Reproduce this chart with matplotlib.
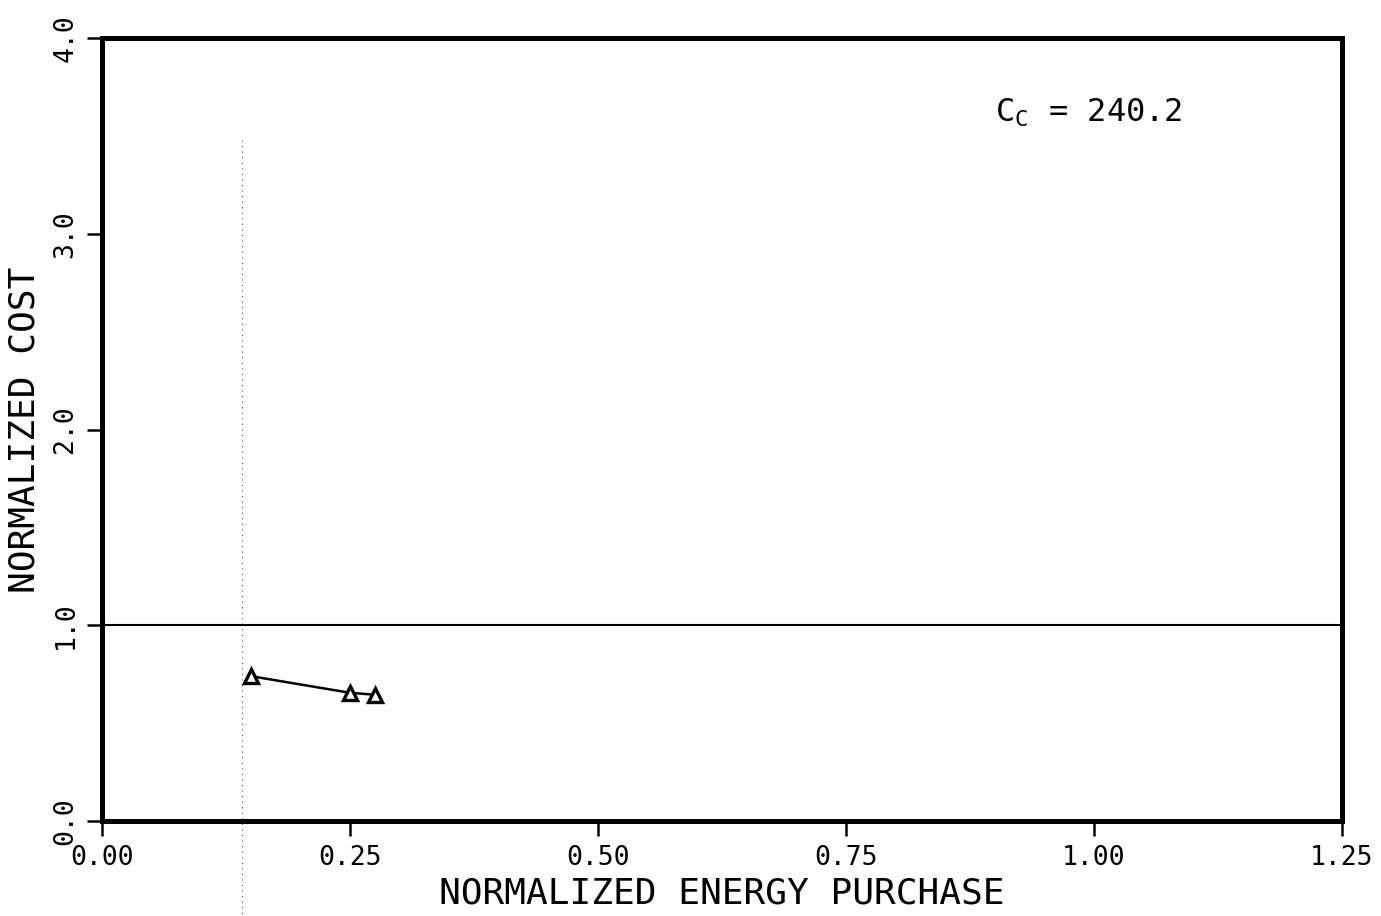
import matplotlib
matplotlib.use("Agg")
import matplotlib.pyplot as plt

# Cost curve for C_c = 240.2
energy_purchase = [0.15, 0.25, 0.275]
normalized_cost = [0.74, 0.655, 0.645]

x_ticks = [0.00, 0.25, 0.50, 0.75, 1.00, 1.25]
x_tick_labels = ["0.00", "0.25", "0.50", "0.75", "1.00", "1.25"]
y_ticks = [0.0, 1.0, 2.0, 3.0, 4.0]
y_tick_labels = ["0.0", "1.0", "2.0", "3.0", "4.0"]

reference_cost = 1.0
limit_x = 0.141
limit_top = 3.48

plt.rcParams["font.family"] = ["DejaVu Sans Mono"]
plt.rcParams["mathtext.fontset"] = "custom"
plt.rcParams["mathtext.rm"] = "DejaVu Sans Mono"

fig = plt.figure(figsize=(13.81, 9.16), dpi=100)
ax = fig.add_axes([0.0739, 0.1037, 0.8979, 0.8548])

ax.set_xlim(0, 1.25)
ax.set_ylim(0, 4.0)

for s in ax.spines.values():
    s.set_linewidth(3.6)
    s.set_color("black")

ax.set_xticks(x_ticks)
ax.set_xticklabels(x_tick_labels, fontsize=19)
ax.set_yticks(y_ticks)
ax.set_yticklabels(y_tick_labels, fontsize=19, rotation=90, va="center")
ax.tick_params(axis="both", direction="out", length=11, width=1.8, pad=6)

ax.set_xlabel("NORMALIZED ENERGY PURCHASE", fontsize=26, labelpad=4)
ax.set_ylabel("NORMALIZED COST", fontsize=26, labelpad=8)

# reference level
ax.axhline(reference_cost, color="black", linewidth=1.5)

# dotted limit line, running below the axis
ax.plot([limit_x, limit_x], [limit_top, -0.5], color="black", linestyle=(0, (1, 4)),
        linewidth=0.8, clip_on=False, alpha=0.7)

ax.plot(energy_purchase, normalized_cost, color="black", linewidth=1.8,
        marker="^", markersize=10, markerfacecolor="white", markeredgewidth=2.4)

ax.text(0.995, 3.62, r"C$_{\mathrm{C}}$ = 240.2", fontsize=23, ha="center", va="center")

fig.savefig("out.png", dpi=100)
